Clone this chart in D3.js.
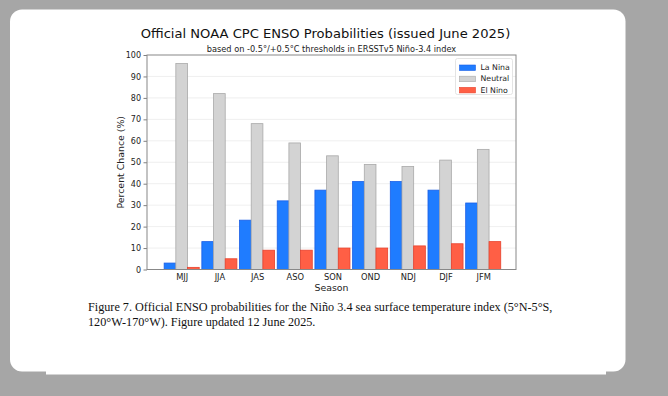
<!DOCTYPE html>
<html>
<head>
<meta charset="utf-8">
<script src="https://cdn.jsdelivr.net/npm/d3@7"></script>
<style>
  body { margin: 0; background: #a6a6a6; }
  svg { display: block; }
</style>
</head>
<body>
<div id="chart"></div>
<script>
const seasons = ["MJJ", "JJA", "JAS", "ASO", "SON", "OND", "NDJ", "DJF", "JFM"];
const laNina = [3, 13, 23, 32, 37, 41, 41, 37, 31];
const neutral = [96, 82, 68, 59, 53, 49, 48, 51, 56];
const elNino = [1, 5, 9, 9, 10, 10, 11, 12, 13];
const yTicks = [0, 10, 20, 30, 40, 50, 60, 70, 80, 90, 100];

const series = [
  { key: "La Nina", values: laNina, fill: "#1f7cff", stroke: "#1a5ee6", offset: -1 },
  { key: "Neutral", values: neutral, fill: "#d3d3d3", stroke: "#a9a9a9", offset: 0 },
  { key: "El Nino", values: elNino, fill: "#ff5f45", stroke: "#e8412c", offset: 1 },
];

const width = 668, height = 396;
const plot = { left: 147, right: 516, top: 55, bottom: 269.5 };
const barW = 0.31;

const svg = d3.select("#chart").append("svg")
  .attr("width", width)
  .attr("height", height);

// card
svg.append("rect")
  .attr("x", 46).attr("y", 20)
  .attr("width", 560).attr("height", 354.5)
  .attr("fill", "#fff");
svg.append("rect")
  .attr("x", 10).attr("y", 9.5)
  .attr("width", 615.5).attr("height", 362)
  .attr("rx", 12)
  .attr("fill", "#fff");

const x = d3.scaleLinear().domain([-0.92, 8.87]).range([plot.left, plot.right]);
const y = d3.scaleLinear().domain([0, 100]).range([plot.bottom, plot.top]);
const unit = x(1) - x(0);

const g = svg.append("g").style("font-family", "'DejaVu Sans', sans-serif");

// gridlines
g.append("g")
  .selectAll("line")
  .data(yTicks.filter((d) => d > 0 && d < 100))
  .join("line")
  .attr("x1", plot.left).attr("x2", plot.right)
  .attr("y1", (d) => y(d)).attr("y2", (d) => y(d))
  .attr("stroke", "#ebebeb")
  .attr("stroke-width", 0.8);

// bars
g.selectAll(".series")
  .data(series)
  .join("g")
  .attr("class", "series")
  .attr("fill", (d) => d.fill)
  .attr("stroke", (d) => d.stroke)
  .attr("stroke-width", 0.8)
  .selectAll("rect")
  .data((s) => s.values.map((v, i) => ({ v, i, offset: s.offset })))
  .join("rect")
  .attr("x", (d) => x(d.i + d.offset * barW - barW / 2))
  .attr("y", (d) => y(d.v))
  .attr("width", barW * unit)
  .attr("height", (d) => y(0) - y(d.v));

// y axis
const yAxis = d3.axisLeft(y).tickValues(yTicks).tickSize(3.5).tickPadding(2.5);
g.append("g")
  .attr("transform", `translate(${plot.left},0)`)
  .call(yAxis)
  .call((a) => a.select(".domain").remove())
  .call((a) => a.selectAll("line").attr("stroke", "#808080"))
  .call((a) => a.selectAll("text")
    .attr("fill", "#222")
    .style("font-family", "'DejaVu Sans', sans-serif")
    .style("font-size", "8px"));

// x axis
const xAxis = d3.axisBottom(x)
  .tickValues(d3.range(seasons.length))
  .tickFormat((i) => seasons[i])
  .tickSize(0)
  .tickPadding(4.5);
g.append("g")
  .attr("transform", `translate(0,${plot.bottom})`)
  .call(xAxis)
  .call((a) => a.select(".domain").remove())
  .call((a) => a.selectAll("text")
    .attr("fill", "#222")
    .style("font-family", "'DejaVu Sans', sans-serif")
    .style("font-size", "8.3px"));

// frame
g.append("rect")
  .attr("x", plot.left).attr("y", plot.top)
  .attr("width", plot.right - plot.left)
  .attr("height", plot.bottom - plot.top)
  .attr("fill", "none")
  .attr("stroke", "#888")
  .attr("stroke-width", 1);

// titles
const cx = (plot.left + plot.right) / 2;
g.append("text")
  .attr("x", cx - 6).attr("y", 37.5)
  .attr("text-anchor", "middle")
  .attr("fill", "#111")
  .style("font-size", "13.1px")
  .text("Official NOAA CPC ENSO Probabilities (issued June 2025)");
g.append("text")
  .attr("x", cx).attr("y", 51.5)
  .attr("text-anchor", "middle")
  .attr("fill", "#222")
  .style("font-size", "8.2px")
  .text("based on -0.5°/+0.5°C thresholds in ERSSTv5 Niño-3.4 index");
g.append("text")
  .attr("transform", `translate(123.5,${(plot.top + plot.bottom) / 2}) rotate(-90)`)
  .attr("text-anchor", "middle")
  .attr("fill", "#222")
  .style("font-size", "9.4px")
  .text("Percent Chance (%)");
g.append("text")
  .attr("x", cx).attr("y", 290.5)
  .attr("text-anchor", "middle")
  .attr("fill", "#222")
  .style("font-size", "9.4px")
  .text("Season");

// legend
const legend = g.append("g").attr("transform", "translate(455.5,58.5)");
legend.append("rect")
  .attr("width", 57).attr("height", 36)
  .attr("rx", 2)
  .attr("fill", "#fff")
  .attr("stroke", "#ddd")
  .attr("stroke-width", 0.8);
const item = legend.selectAll(".item")
  .data(series)
  .join("g")
  .attr("class", "item")
  .attr("transform", (d, i) => `translate(4,${6.5 + i * 11.2})`);
item.append("rect")
  .attr("width", 16).attr("height", 5.5)
  .attr("fill", (d) => d.fill)
  .attr("stroke", (d) => d.stroke)
  .attr("stroke-width", 0.6);
item.append("text")
  .attr("x", 21).attr("y", 5.2)
  .attr("fill", "#222")
  .style("font-size", "7.8px")
  .text((d) => d.key);

// caption
const caption = svg.append("text")
  .attr("fill", "#111")
  .style("font-family", "'Liberation Serif', 'Times New Roman', serif")
  .style("font-size", "12.2px");
caption.append("tspan")
  .attr("x", 88).attr("y", 310.5)
  .text("Figure 7. Official ENSO probabilities for the Niño 3.4 sea surface temperature index (5°N-5°S,");
caption.append("tspan")
  .attr("x", 88).attr("y", 325.5)
  .text("120°W-170°W). Figure updated 12 June 2025.");
</script>
</body>
</html>
